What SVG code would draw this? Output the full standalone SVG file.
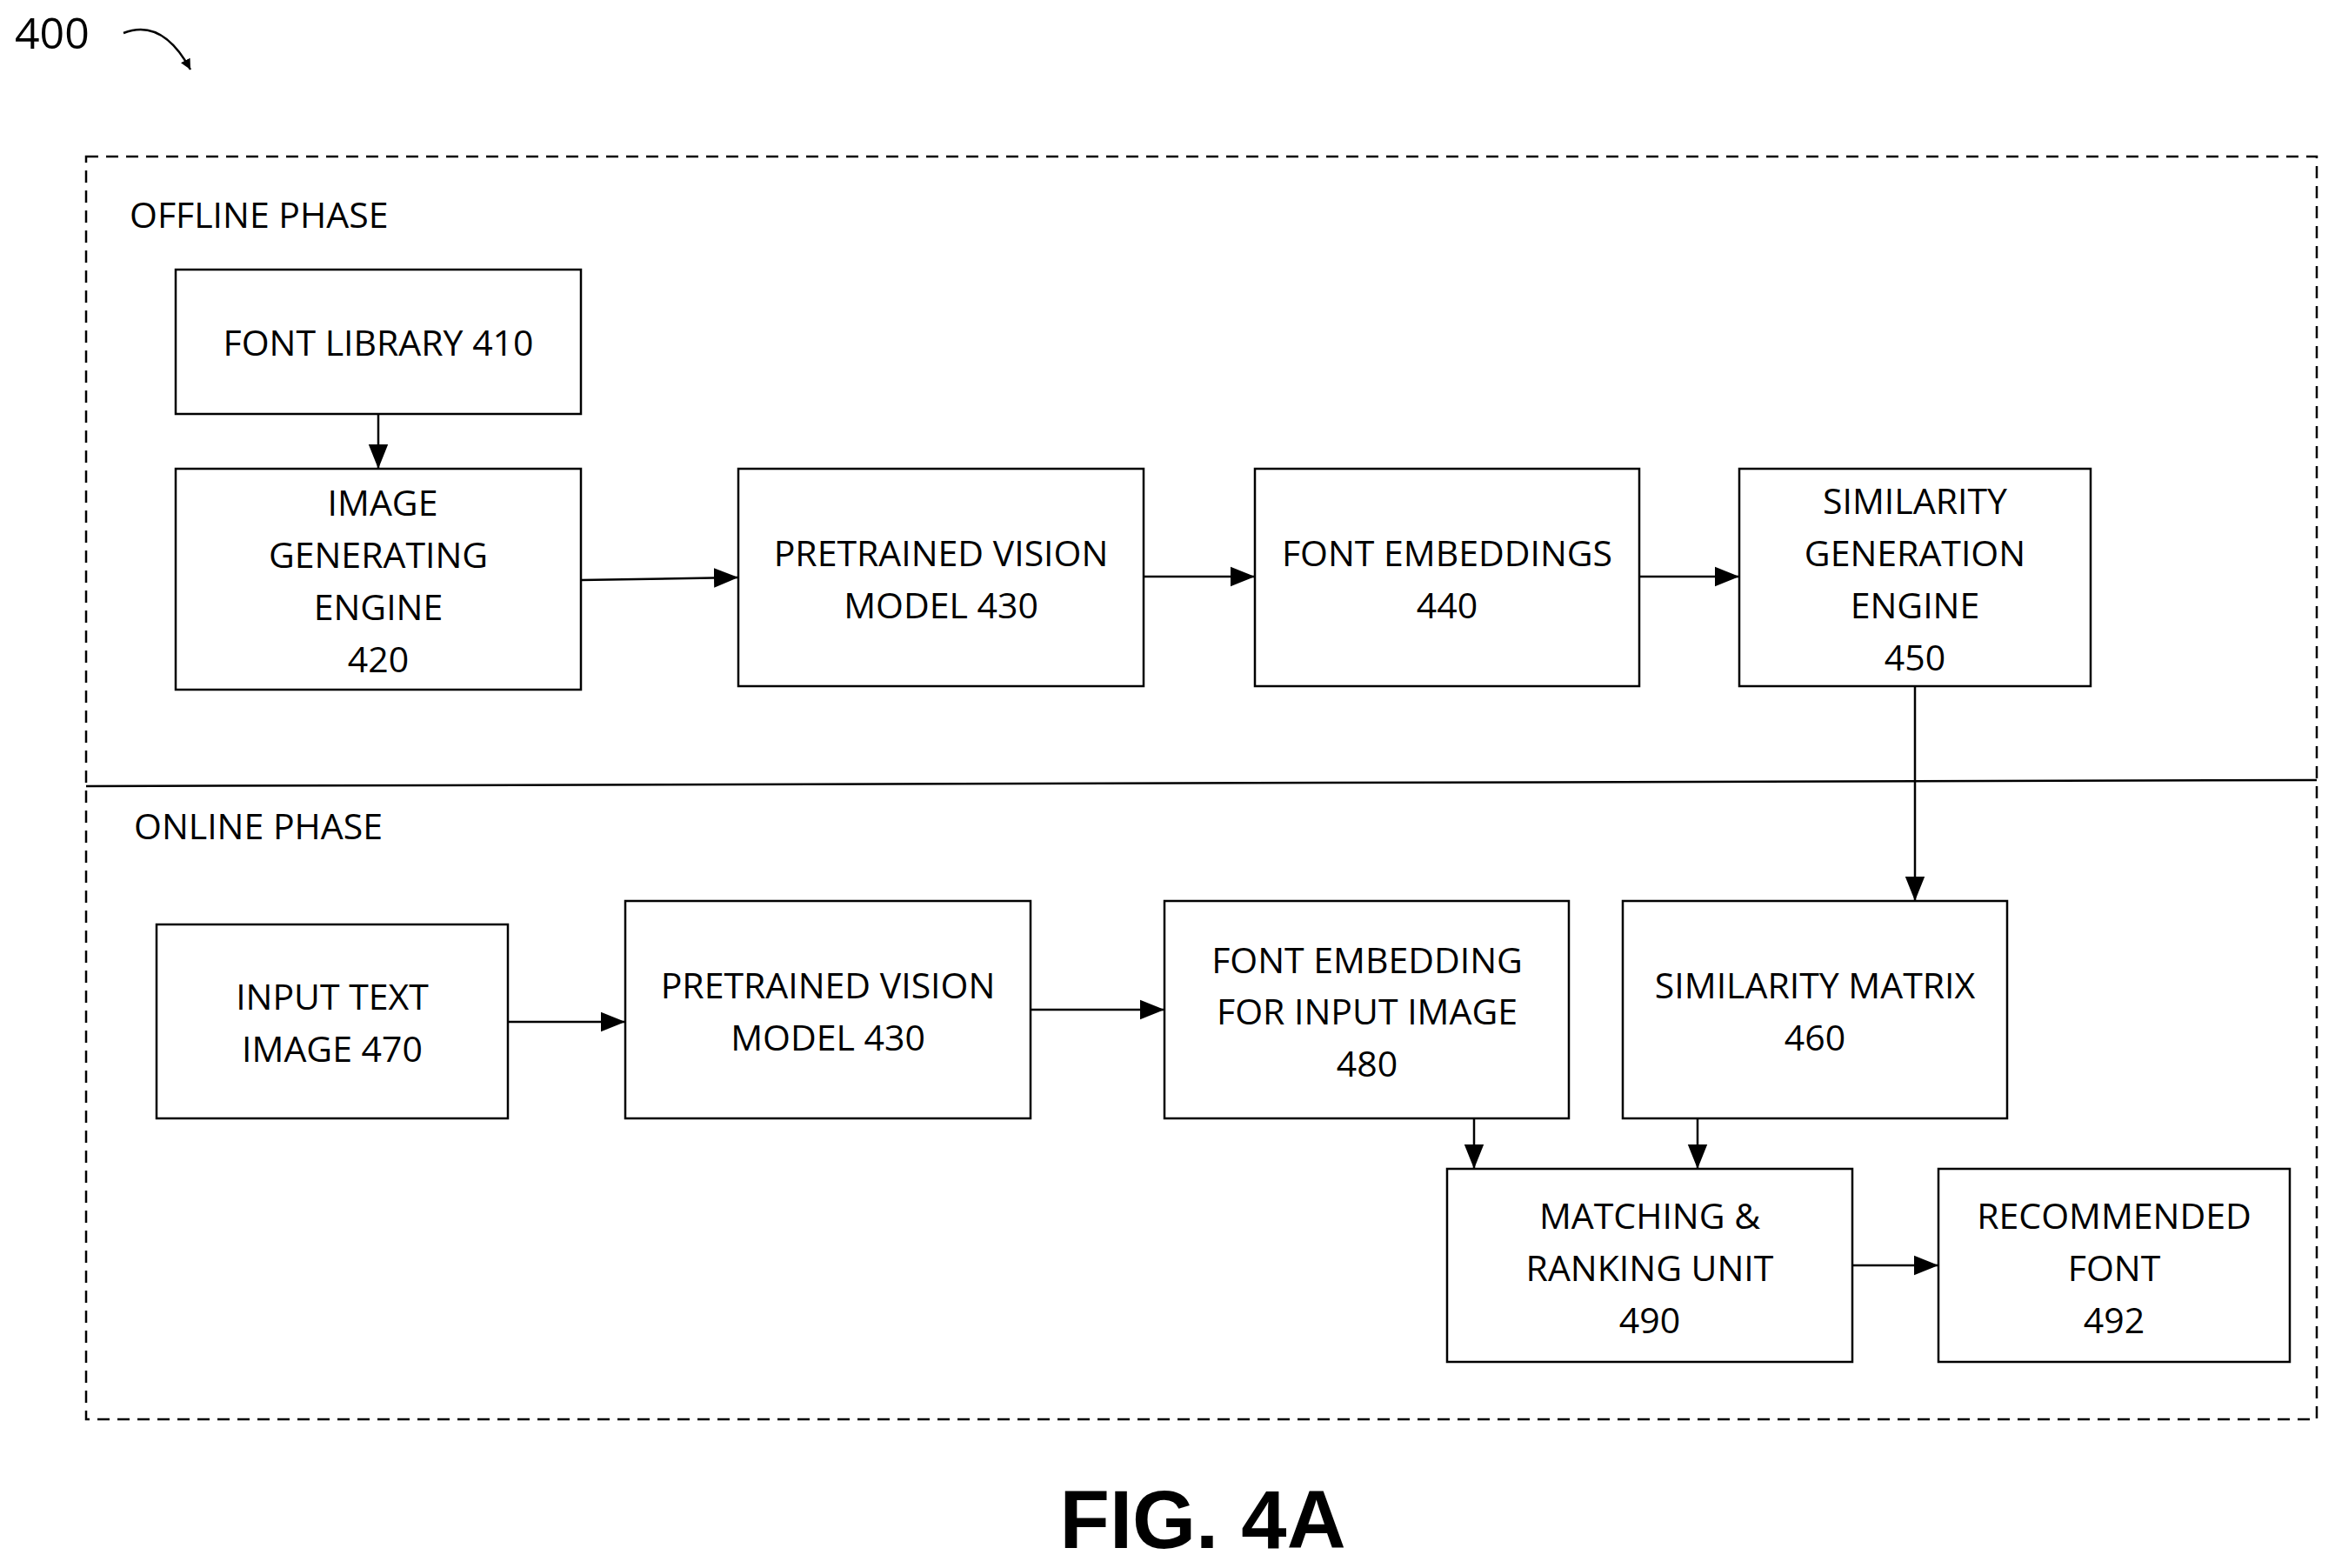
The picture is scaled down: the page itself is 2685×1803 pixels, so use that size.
<svg xmlns="http://www.w3.org/2000/svg" width="2685" height="1803" viewBox="0 0 2685 1803">
<style>
.b{fill:none;stroke:#000;stroke-width:2.5}
.t{font-family:"Open Sans","Liberation Sans",sans-serif;font-size:41px;text-anchor:middle;dominant-baseline:central;fill:#000}
.l{font-family:"Open Sans","Liberation Sans",sans-serif;font-size:41px;fill:#000}
.c{stroke:#000;stroke-width:2.5;fill:none;marker-end:url(#a)}
</style>
<defs><marker id="a" viewBox="0 0 10 10" refX="10" refY="5" markerWidth="12" markerHeight="12" markerUnits="userSpaceOnUse" orient="auto"><path d="M0,0L10,5L0,10z" fill="#000"/></marker>
<marker id="a2" viewBox="0 0 10 10" refX="10" refY="5" markerWidth="28" markerHeight="28" markerUnits="userSpaceOnUse" orient="auto"><path d="M0,1L10,5L0,9z" fill="#000"/></marker></defs>
<rect width="2685" height="1803" fill="#fff"/>
<text x="17" y="56" style="font-family:'Open Sans','Liberation Sans',sans-serif;font-size:50px">400</text>
<path d="M142,38 C175,25 200,45 219,80" fill="none" stroke="#000" stroke-width="2.5" marker-end="url(#a)"/>
<rect x="99" y="180" width="2565" height="1452" fill="none" stroke="#000" stroke-width="2.5" stroke-dasharray="14,9"/>
<line x1="99" y1="904" x2="2664" y2="897" stroke="#000" stroke-width="2.5"/>
<text class="l" x="149" y="262">OFFLINE PHASE</text>
<text class="l" x="154" y="965">ONLINE PHASE</text>
<g id="n410"><rect class="b" x="202" y="310" width="466" height="166"/><text class="t" x="435" y="393">FONT LIBRARY 410</text></g>
<g id="n420"><rect class="b" x="202" y="539" width="466" height="254"/><text class="t" x="440" y="577">IMAGE</text><text class="t" x="435" y="637">GENERATING</text><text class="t" x="435" y="697">ENGINE</text><text class="t" x="435" y="757">420</text></g>
<g id="n430a"><rect class="b" x="849" y="539" width="466" height="250"/><text class="t" x="1082" y="635">PRETRAINED VISION</text><text class="t" x="1082" y="695">MODEL 430</text></g>
<g id="n440"><rect class="b" x="1443" y="539" width="442" height="250"/><text class="t" x="1664" y="635">FONT EMBEDDINGS</text><text class="t" x="1664" y="695">440</text></g>
<g id="n450"><rect class="b" x="2000" y="539" width="404" height="250"/><text class="t" x="2202" y="575">SIMILARITY</text><text class="t" x="2202" y="635">GENERATION</text><text class="t" x="2202" y="695">ENGINE</text><text class="t" x="2202" y="755">450</text></g>
<g id="n470"><rect class="b" x="180" y="1063" width="404" height="223"/><text class="t" x="382" y="1145">INPUT TEXT</text><text class="t" x="382" y="1205">IMAGE 470</text></g>
<g id="n430b"><rect class="b" x="719" y="1036" width="466" height="250"/><text class="t" x="952" y="1132">PRETRAINED VISION</text><text class="t" x="952" y="1192">MODEL 430</text></g>
<g id="n480"><rect class="b" x="1339" y="1036" width="465" height="250"/><text class="t" x="1572" y="1103">FONT EMBEDDING</text><text class="t" x="1572" y="1162">FOR INPUT IMAGE</text><text class="t" x="1572" y="1222">480</text></g>
<g id="n460"><rect class="b" x="1866" y="1036" width="442" height="250"/><text class="t" x="2087" y="1132">SIMILARITY MATRIX</text><text class="t" x="2087" y="1192">460</text></g>
<g id="n490"><rect class="b" x="1664" y="1344" width="466" height="222"/><text class="t" x="1897" y="1397">MATCHING &amp;</text><text class="t" x="1897" y="1457">RANKING UNIT</text><text class="t" x="1897" y="1517">490</text></g>
<g id="n492"><rect class="b" x="2229" y="1344" width="404" height="222"/><text class="t" x="2431" y="1397">RECOMMENDED</text><text class="t" x="2431" y="1457">FONT</text><text class="t" x="2431" y="1517">492</text></g>
<g id="connectors" stroke="#000" stroke-width="2.5" fill="none">
<path d="M435,476V539" marker-end="url(#a2)"/>
<path d="M668,667L849,664" marker-end="url(#a2)"/>
<path d="M1315,663H1443" marker-end="url(#a2)"/>
<path d="M1885,663H2000" marker-end="url(#a2)"/>
<path d="M2202,789V1036" marker-end="url(#a2)"/>
<path d="M584,1175H719" marker-end="url(#a2)"/>
<path d="M1185,1161H1339" marker-end="url(#a2)"/>
<path d="M1695,1286V1344" marker-end="url(#a2)"/>
<path d="M1952,1286V1344" marker-end="url(#a2)"/>
<path d="M2130,1455H2229" marker-end="url(#a2)"/>
</g>
<text x="1383" y="1780" style="font-family:'Liberation Sans',Arial,sans-serif;font-size:94px;font-weight:bold;text-anchor:middle">FIG. 4A</text>
</svg>
